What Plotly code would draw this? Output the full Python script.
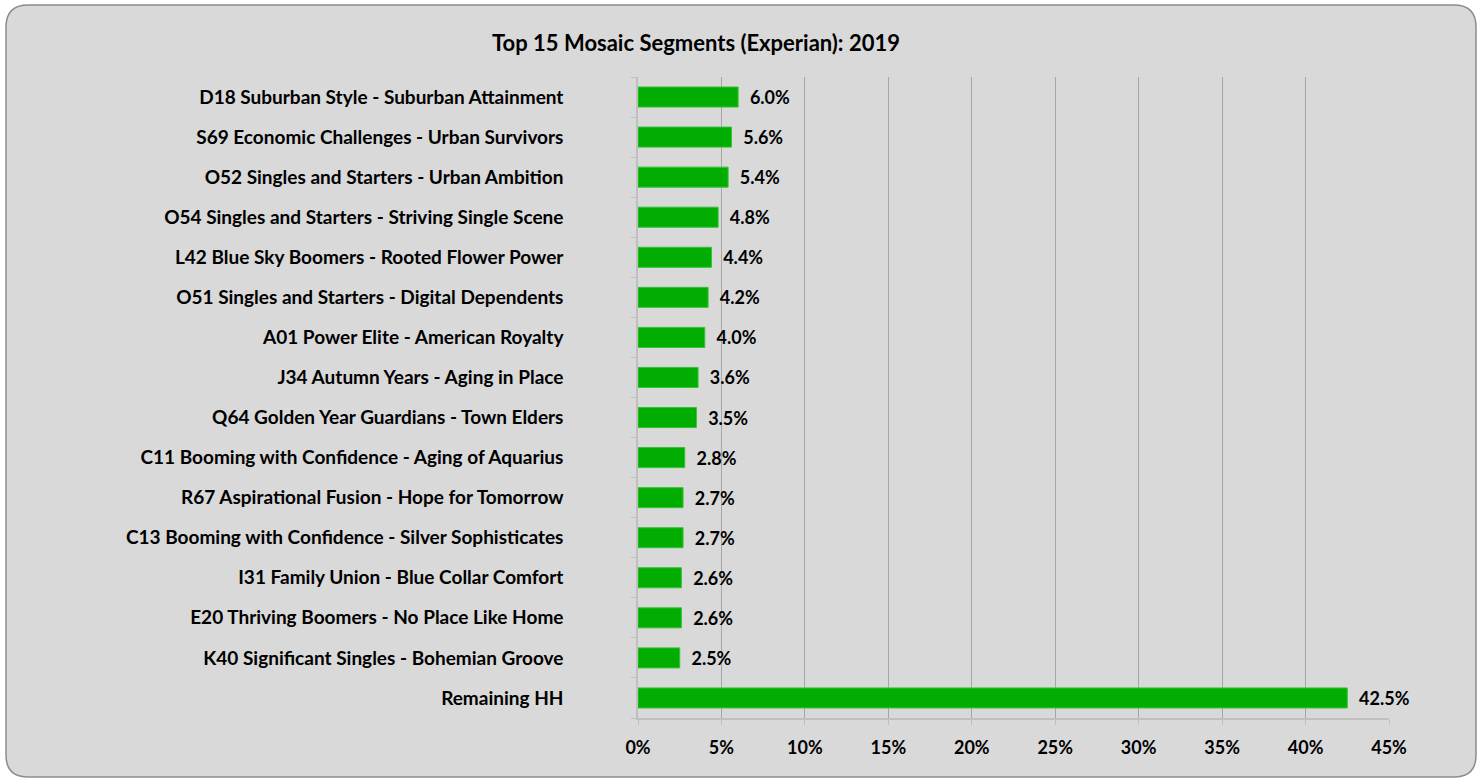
import plotly.graph_objects as go

categories = [
    "D18 Suburban Style - Suburban Attainment",
    "S69 Economic Challenges - Urban Survivors",
    "O52 Singles and Starters - Urban Ambition",
    "O54 Singles and Starters - Striving Single Scene",
    "L42 Blue Sky Boomers - Rooted Flower Power",
    "O51 Singles and Starters - Digital Dependents",
    "A01 Power Elite - American Royalty",
    "J34 Autumn Years - Aging in Place",
    "Q64 Golden Year Guardians - Town Elders",
    "C11 Booming with Confidence - Aging of Aquarius",
    "R67 Aspirational Fusion - Hope for Tomorrow",
    "C13 Booming with Confidence - Silver Sophisticates",
    "I31 Family Union - Blue Collar Comfort",
    "E20 Thriving Boomers - No Place Like Home",
    "K40 Significant Singles - Bohemian Groove",
    "Remaining HH",
]
values = [6.0, 5.6, 5.4, 4.8, 4.4, 4.2, 4.0, 3.6, 3.5, 2.8, 2.7, 2.7, 2.6, 2.6, 2.5, 42.5]
x_ticks = [0, 5, 10, 15, 20, 25, 30, 35, 40, 45]
x_tick_labels = ["0%", "5%", "10%", "15%", "20%", "25%", "30%", "35%", "40%", "45%"]
title_text = "Top 15 Mosaic Segments (Experian): 2019"

FONT = "Lato"
W, H = 1481, 780
L, R, T, B = 638, 1389, 77, 718
pw, ph = R - L, B - T

def px(x):
    return (x - L) / pw

def py(y):
    return (B - y) / ph

fig = go.Figure()
fig.add_trace(go.Bar(
    y=categories,
    x=values,
    orientation="h",
    marker=dict(color="#00ad00", line=dict(color="#33c433", width=1)),
    width=0.5,
    text=["\u00a0\u00a0" + f"{v:.1f}%" for v in values],
    textposition="outside",
    textfont=dict(family=FONT, size=18, color="#000000", weight="bold"),
    cliponaxis=False,
    constraintext="none",
    hoverinfo="skip",
))

# rounded outer background
x0, x1, y0, y1, r = 6, 1476, 5, 777, 22
path = (
    f"M {px(x0 + r)},{py(y0)} L {px(x1 - r)},{py(y0)} "
    f"Q {px(x1)},{py(y0)} {px(x1)},{py(y0 + r)} "
    f"L {px(x1)},{py(y1 - r)} Q {px(x1)},{py(y1)} {px(x1 - r)},{py(y1)} "
    f"L {px(x0 + r)},{py(y1)} Q {px(x0)},{py(y1)} {px(x0)},{py(y1 - r)} "
    f"L {px(x0)},{py(y0 + r)} Q {px(x0)},{py(y0)} {px(x0 + r)},{py(y0)} Z"
)
fig.add_shape(type="path", path=path, xref="paper", yref="paper",
              fillcolor="#d9d9d9", line=dict(color="#8c8c8c", width=1.5), layer="below")

fig.update_layout(
    width=W, height=H,
    margin=dict(l=L, r=W - R, t=T, b=H - B, pad=0),
    paper_bgcolor="white",
    plot_bgcolor="white",
    showlegend=False,
    title=dict(text=title_text, x=(492 + 900) / 2 / W, xanchor="center",
               y=1 - 43 / H, yanchor="middle",
               font=dict(family=FONT, size=22, color="#000000", weight="bold")),
    font=dict(family=FONT, color="#000000"),
    bargap=0.5,
)
fig.update_xaxes(
    range=[0, 45],
    tickvals=x_ticks,
    ticktext=x_tick_labels,
    showgrid=True, gridcolor="#a6a6a6", gridwidth=1,
    showline=True, linecolor="#bfbfbf", linewidth=1.5,
    ticks="outside", ticklen=5, tickcolor="#bfbfbf",
    ticklabelstandoff=8,
    tickfont=dict(family=FONT, size=18, color="#000000", weight="bold"),
    zeroline=False,
    fixedrange=True,
)
fig.update_yaxes(
    categoryorder="array",
    categoryarray=categories[::-1],
    autorange=True,
    showgrid=False,
    showline=True, linecolor="#bfbfbf", linewidth=1.5,
    ticks="outside", ticklen=5, tickcolor="#bfbfbf",
    tickson="boundaries",
    ticklabelstandoff=69,
    tickfont=dict(family=FONT, size=19, color="#000000", weight="bold"),
    fixedrange=True,
)

fig.write_html("out.html", config={"displayModeBar": False},
               post_script="document.body.style.margin='0';")
